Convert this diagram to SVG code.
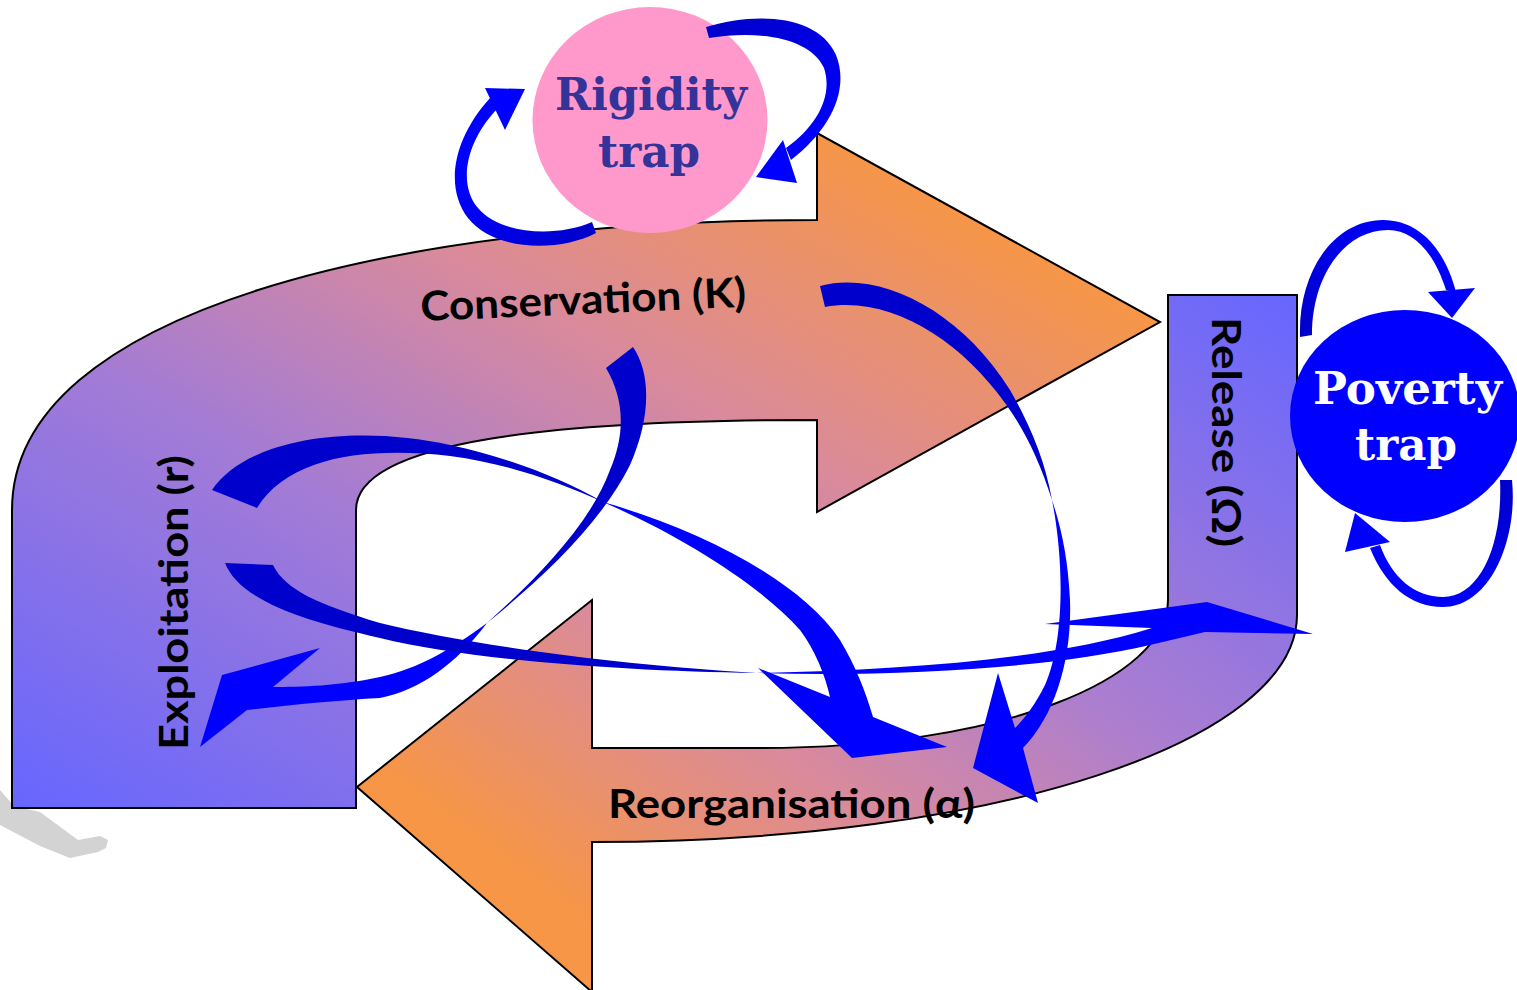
<svg xmlns="http://www.w3.org/2000/svg" width="1517" height="990" viewBox="0 0 1517 990">
  <defs>
    <linearGradient id="gTop" x1="0" y1="1" x2="1" y2="0">
      <stop offset="0" stop-color="#6666ff"/>
      <stop offset="0.36" stop-color="#a27bd6"/>
      <stop offset="0.6" stop-color="#d98a9c"/>
      <stop offset="0.86" stop-color="#f79646"/>
      <stop offset="1" stop-color="#f79646"/>
    </linearGradient>
    <linearGradient id="gBot" x1="0" y1="1" x2="1" y2="0">
      <stop offset="0" stop-color="#f79646"/>
      <stop offset="0.17" stop-color="#f79646"/>
      <stop offset="0.4" stop-color="#d98a9c"/>
      <stop offset="0.6" stop-color="#ac7ecf"/>
      <stop offset="1" stop-color="#6666ff"/>
    </linearGradient>
    <linearGradient id="gA" gradientUnits="userSpaceOnUse" x1="706" y1="32" x2="790" y2="160">
      <stop offset="0" stop-color="#0000cc"/><stop offset="1" stop-color="#0000ff"/>
    </linearGradient>
    <linearGradient id="gB" gradientUnits="userSpaceOnUse" x1="594" y1="228" x2="480" y2="150">
      <stop offset="0" stop-color="#0000cc"/><stop offset="1" stop-color="#0000ff"/>
    </linearGradient>
    <linearGradient id="gC" gradientUnits="userSpaceOnUse" x1="1306" y1="336" x2="1420" y2="230">
      <stop offset="0" stop-color="#0000cc"/><stop offset="1" stop-color="#0000ff"/>
    </linearGradient>
    <linearGradient id="gD" gradientUnits="userSpaceOnUse" x1="1506" y1="480" x2="1420" y2="600">
      <stop offset="0" stop-color="#0000cc"/><stop offset="1" stop-color="#0000ff"/>
    </linearGradient>
  </defs>
  <style>
    .band { stroke: #000000; stroke-width: 2; stroke-linejoin: miter; }
    .lbl { font-family: Lato, "Liberation Sans", sans-serif; font-weight: bold; font-size: 41px; fill: #000000; }
    .trap { font-family: "DejaVu Serif", "Liberation Serif", serif; font-weight: bold; font-size: 44px; text-anchor: start; }
    .dark { fill: #0000cc; }
    .bright { fill: #0000ff; }
  </style>

  <rect width="1517" height="990" fill="#ffffff"/>

  <!-- shadow -->
  <polygon points="0,790 14,806 40,812 78,840 100,836 108,840 106,848 98,852 70,858 40,846 0,825" fill="#d3d3d3"/>

  <g id="phase-top">
    <path class="band" fill="url(#gTop)" d="M12,808 L12,510 C12,310 400,220 817,220 L817,133 L1160,322 L817,512 L817,420 C560,420 356,440 356,510 L356,808 Z"/>
  </g>
  <g id="phase-bottom">
    <path class="band" fill="url(#gBot)" d="M1168,295 L1297,295 L1297,615 C1297,740 1000,842 592,842 L592,992 L357,787 L592,600 L592,748 L760,748 C1000,748 1168,680 1168,600 Z"/>
  </g>

  <g id="label-conservation">
    <text class="lbl" x="421" y="321" transform="rotate(-2.5 421 321)" textLength="326" lengthAdjust="spacingAndGlyphs">Conservation (K)</text>
  </g>
  <g id="label-exploitation">
    <text class="lbl" transform="translate(188,750) rotate(-90)" x="0" y="0" textLength="295" lengthAdjust="spacingAndGlyphs">Exploitation (r)</text>
  </g>
  <g id="label-release">
    <text class="lbl" transform="translate(1212,317) rotate(90)" x="0" y="0" textLength="230" lengthAdjust="spacingAndGlyphs">Release (Ω)</text>
  </g>
  <g id="label-reorganisation">
    <text class="lbl" x="608" y="818" textLength="367" lengthAdjust="spacingAndGlyphs">Reorganisation (α)</text>
  </g>

  <g id="rigidity-trap">
    <ellipse cx="650" cy="120" rx="117.5" ry="113" fill="#ff99cc"/>
    <text class="trap" x="555" y="110" fill="#333399" textLength="192" lengthAdjust="spacingAndGlyphs">Rigidity</text>
    <text class="trap" x="598" y="167" fill="#333399" textLength="102" lengthAdjust="spacingAndGlyphs">trap</text>
  </g>

  <g id="poverty-trap">
    <ellipse cx="1405" cy="416" rx="115" ry="106" fill="#0000ff"/>
    <text class="trap" x="1313" y="404" fill="#ffffff" textLength="189" lengthAdjust="spacingAndGlyphs">Poverty</text>
    <text class="trap" x="1355" y="460" fill="#ffffff" textLength="102" lengthAdjust="spacingAndGlyphs">trap</text>
  </g>

  <g id="connectors">
    <!-- rigidity loop right -->
    <path fill="url(#gA)" d="M706,27 C755,12 818,14 836,55 C850,90 830,130 791,160 L786,148 C818,125 833,95 824,68 C810,38 760,30 709,38 Z"/>
    <polygon class="bright" points="783,140 797,183 756,177"/>
    <!-- rigidity loop left -->
    <path fill="url(#gB)" d="M596,233 C560,252 495,252 468,218 C445,188 452,140 490,98 L498,108 C465,142 458,185 478,208 C500,234 555,238 592,222 Z"/>
    <polygon class="bright" points="485,88 525,89 505,130"/>
    <!-- poverty loop top -->
    <path fill="url(#gC)" d="M1300,337 C1298,270 1335,220 1383,220 C1420,220 1445,250 1456,292 L1446,290 C1435,255 1415,230 1388,230 C1345,230 1312,275 1312,335 Z"/>
    <polygon class="bright" points="1428,292 1475,288 1452,318"/>
    <!-- poverty loop bottom -->
    <path fill="url(#gD)" d="M1512,480 C1518,540 1490,607 1443,607 C1410,607 1385,585 1370,548 L1380,545 C1392,578 1415,597 1443,597 C1480,597 1503,545 1500,480 Z"/>
    <polygon class="bright" points="1355,513 1345,552 1390,542"/>

    <!-- conservation to exploitation -->
    <path class="dark" d="M606,368 L633,347 C652,375 650,420 630,465 C600,525 540,580 487,623 C535,580 590,525 610,470 C625,435 625,400 606,368 Z"/>
    <path class="bright" d="M487,623 C450,650 420,668 380,677 C340,686 300,687 273,687 L320,648 L222,675 L200,747 L247,710 C290,705 340,700 380,698 C420,690 455,665 487,623 Z"/>

    <!-- exploitation to reorganisation -->
    <path class="dark" d="M212,490 C250,435 360,425 450,445 C510,458 560,478 603,502 C560,483 510,464 450,456 C370,447 290,455 257,508 Z"/>
    <path class="bright" d="M603,502 C680,535 760,585 800,630 C815,650 825,675 830,697 L758,668 L852,758 L947,747 L873,717 C865,690 855,665 840,640 C800,580 700,530 603,502 Z"/>

    <!-- exploitation to release -->
    <path class="dark" d="M225,563 L273,565 C285,590 320,605 380,623 C470,645 620,665 757,673 C620,671 470,660 380,638 C300,620 240,600 225,563 Z"/>
    <path class="bright" d="M757,673 C900,670 1050,660 1152,628 L1045,624 L1207,602 L1313,634 L1205,632 L1150,645 C1050,668 900,677 757,673 Z"/>

    <!-- conservation to reorganisation -->
    <path class="dark" d="M820,286 C880,270 960,310 1010,390 C1030,425 1045,460 1052,500 C1040,462 1025,430 1005,403 C960,340 890,295 825,307 Z"/>
    <path class="bright" d="M1052,500 C1064,560 1065,640 1045,685 C1035,705 1025,718 1015,728 L998,673 L973,768 L1038,803 L1023,748 C1055,715 1072,660 1070,600 C1068,560 1062,530 1052,500 Z"/>
  </g>
</svg>
